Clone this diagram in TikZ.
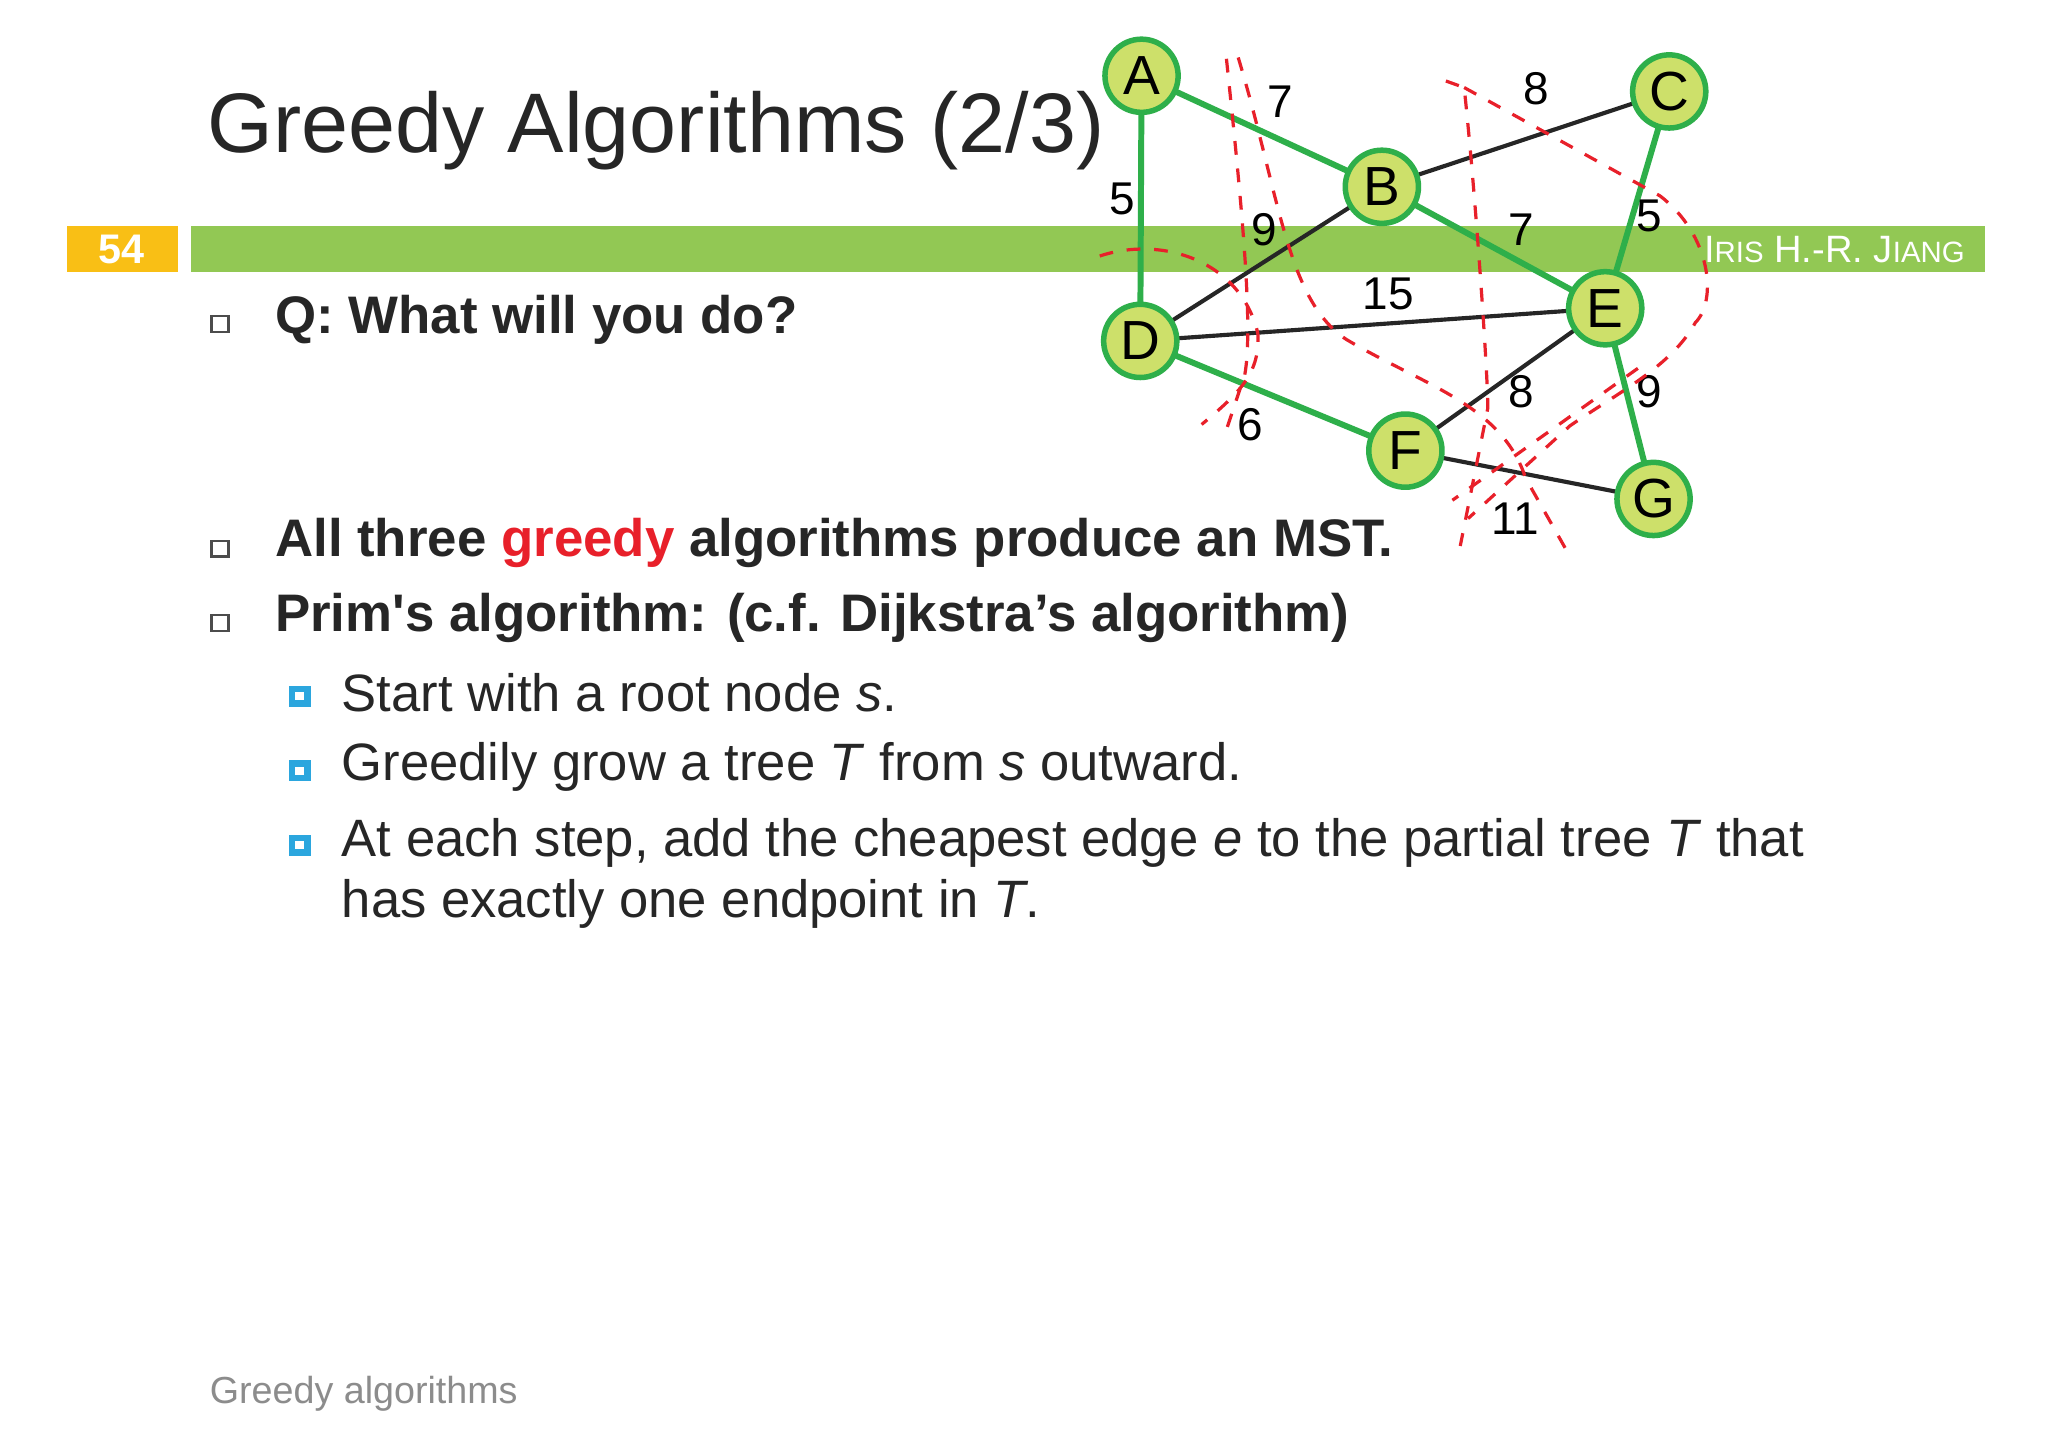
\documentclass[tikz,border=0pt]{standalone}
\usepackage{fontspec}
\setmainfont{Liberation Sans}
\usepackage{xcolor}
\definecolor{barGreen}{HTML}{92C854}
\definecolor{nodeFill}{HTML}{CDE06A}
\definecolor{edgeGreen}{HTML}{2EAF4A}
\definecolor{pageOrange}{HTML}{F9BF15}
\definecolor{bulletBlue}{HTML}{2BA6DE}
\definecolor{cutRed}{HTML}{E8202A}
\newcommand{\smc}[1]{{\fontsize{6.4}{6.4}\selectfont #1}}
\tikzset{
  vtx/.style={circle, draw=edgeGreen, line width=1.2pt, fill=nodeFill, minimum size=0.56cm, inner sep=0pt, font=\fontsize{12}{12}\selectfont},
  tree/.style={draw=edgeGreen, line width=1.3pt},
  plain/.style={draw=black!85, line width=0.9pt},
  wt/.style={font=\fontsize{10}{10}\selectfont},
  cut/.style={draw=cutRed, dashed, line width=0.7pt},
  txt/.style={anchor=west, inner sep=0pt},
}
\begin{document}
\begin{tikzpicture}[x=0.01cm, y=-0.01cm]
\useasboundingbox (0,0) rectangle (1568,1111);
\fill[white] (0,0) rectangle (1568,1111);
% header bar
\fill[barGreen] (146,173) rectangle (1520,208);
\fill[pageOrange] (51,173) rectangle (136,208);
\node[text=white, font=\bfseries\fontsize{9}{9}\selectfont] (pg) at (93,191) {54};
\node[anchor=east, inner sep=0pt, text=white, font=\fontsize{8.3}{8.3}\selectfont] (auth) at (1505,191) {I\smc{RIS} H.-R. J\smc{IANG}};
\node[txt, font=\fontsize{18.4}{18.4}\selectfont, text=black!85] (title) at (158,100) {Greedy Algorithms (2/3)};
% bullets
\foreach \y in {248,420,477}
  \draw[black!70, line width=0.5pt] (162,\y-6) rectangle (175,\y+6);
\foreach \y in {533,590,647}{
  \fill[bulletBlue] (221,\y-8) rectangle (238,\y+8);
  \fill[white] (226,\y-3) rectangle (233,\y+3);
}
\node[txt, font=\bfseries\fontsize{11.5}{11.5}\selectfont, text=black!85] (q) at (210,245) {Q: What will you do?};
\node[txt, font=\bfseries\fontsize{11.5}{11.5}\selectfont, text=black!85] (all) at (210,416) {All three \textcolor{cutRed}{greedy} algorithms produce an MST.};
\node[txt, font=\bfseries\fontsize{11.5}{11.5}\selectfont, text=black!85] (prim) at (210,473) {Prim\textquotesingle s algorithm: (c.f. Dijkstra’s algorithm)};
\node[txt, font=\fontsize{11.45}{11.45}\selectfont, text=black!85] (s1) at (261,530) {Start with a root node \textit{s}.};
\node[txt, font=\fontsize{11.45}{11.45}\selectfont, text=black!85] (s2) at (261,587) {Greedily grow a tree \textit{T} from \textit{s} outward.};
\node[txt, font=\fontsize{11.45}{11.45}\selectfont, text=black!85] (s3) at (261,645) {At each step, add the cheapest edge \textit{e} to the partial tree \textit{T} that};
\node[txt, font=\fontsize{11.45}{11.45}\selectfont, text=black!85] (s4) at (261,692) {has exactly one endpoint in \textit{T}.};
\node[txt, font=\fontsize{8.2}{8.2}\selectfont, text=black!45] (foot) at (160,1067) {Greedy algorithms};
% graph
\coordinate (pA) at (874,58);
\coordinate (pB) at (1058,143);
\coordinate (pC) at (1278,70);
\coordinate (pD) at (873,261);
\coordinate (pE) at (1229,236);
\coordinate (pF) at (1076,345);
\coordinate (pG) at (1266,382);
\path[tree] (pA) -- (pB);
\path[tree] (pA) -- (pD);
\path[tree] (pB) -- (pE);
\path[tree] (pC) -- (pE);
\path[tree] (pD) -- (pF);
\path[tree] (pE) -- (pG);
\path[plain] (pB) -- (pC);
\path[plain] (pB) -- (pD);
\path[plain] (pD) -- (pE);
\path[plain] (pE) -- (pF);
\path[plain] (pF) -- (pG);
\foreach \n in {A,B,C,D,E,F,G}
  \node[vtx] (\n) at (p\n) {\n};
\node[wt] (wAB) at (980,78) {7};
\node[wt] (wBC) at (1176,68) {8};
\node[wt] (wAD) at (859,152) {5};
\node[wt] (wBD) at (968,176) {9};
\node[wt] (wBE) at (1165,176) {7};
\node[wt] (wCE) at (1263,165) {5};
\node[wt] (wDE) at (1063,225) {15};
\node[wt] (wEF) at (1165,300) {8};
\node[wt] (wEG) at (1263,300) {9};
\node[wt] (wDF) at (957,325) {6};
\node[wt] (wFG) at (1160,397) {11};
% cuts
\draw[cut] (939,45) .. controls (950,150) and (960,250) .. (953,287) -- (939,329);
\draw[cut] (948,44) .. controls (980,150) and (985,230) .. (1031,260) .. controls (1090,295) and (1150,310) .. (1168,366) -- (1202,426);
\draw[cut] (842,196) .. controls (890,180) and (950,200) .. (963,255) .. controls (965,285) and (950,300) .. (920,325);
\draw[cut] (1107,62) -- (1121,67) .. controls (1130,150) and (1140,300) .. (1139,313) -- (1118,418);
\draw[cut] (1121,67) -- (1271,150) .. controls (1310,180) and (1315,230) .. (1298,247) .. controls (1280,280) and (1240,300) .. (1202,326) -- (1124,397);
\draw[cut] (1254,282) -- (1112,383);
\end{tikzpicture}
\end{document}
